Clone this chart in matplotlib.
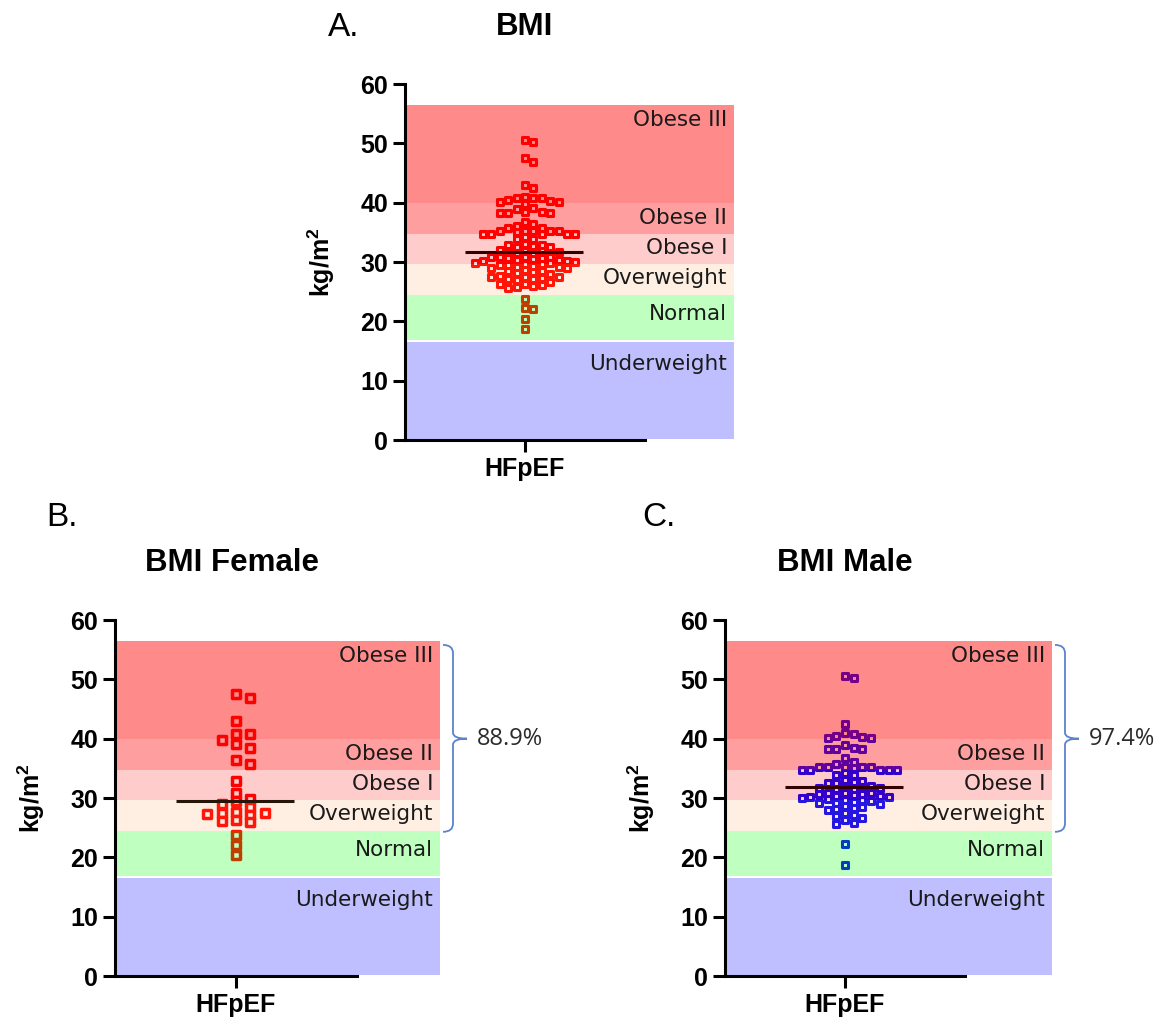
import numpy as np
import matplotlib
matplotlib.use("Agg")
import matplotlib.pyplot as plt
from matplotlib.path import Path
from matplotlib.patches import PathPatch

plt.rcParams["font.family"] = ["Liberation Sans", "DejaVu Sans"]
plt.rcParams["mathtext.fontset"] = "custom"
plt.rcParams["mathtext.rm"] = "Liberation Sans"
plt.rcParams["mathtext.bf"] = "Liberation Sans:bold"

W, H = 1172, 1028

# BMI values (kg/m2)
female = [47.6, 46.8, 42.9, 40.8, 40.8, 39.8, 39.1, 38.5, 36.4, 35.8,
          32.9, 30.8, 29.9, 29.5, 29.0, 28.4, 27.6, 27.5, 27.4, 27.3,
          27.2, 26.3, 26.2, 26.0, 23.8, 22.1, 20.4]
male = [50.6, 50.3, 42.4,
        41.0, 40.8, 40.5, 40.2, 40.1, 40.1,
        38.9, 38.4, 38.2, 38.2, 38.2, 36.7, 36.1,
        35.7, 35.3, 35.3, 35.3, 35.3, 35.2, 35.0, 34.8, 34.8, 34.7, 34.7, 34.7,
        34.2, 33.9, 33.8,
        33.0, 32.9, 32.7, 32.6, 32.5,
        32.0, 31.9, 31.8, 31.7, 31.7, 31.6, 31.5,
        30.9, 30.8, 30.8, 30.7, 30.6, 30.5, 30.4, 30.3, 30.2, 30.1, 30.0,
        29.8, 29.7, 29.6, 29.5, 29.4, 29.2, 29.1, 29.0,
        28.6, 28.4, 28.3, 28.1, 27.9,
        27.4, 27.2, 27.0,
        26.6, 26.3, 25.8, 25.6,
        22.2, 18.7]
everyone = female + male

band_names = ["Underweight", "Normal", "Overweight", "Obese I", "Obese II", "Obese III"]
band_lo = [0.2, 16.9, 24.4, 29.6, 34.8, 39.9]
band_hi = [16.6, 24.4, 29.6, 34.8, 39.9, 56.4]
band_rgb = ["#0000ff", "#00ff00", "#ff9640", "#ff0000", "#ff0000", "#ff0000"]
band_alpha = [0.25, 0.25, 0.15, 0.2, 0.38, 0.46]
label_drop = [3.8, 3.1, 2.3, 2.4, 2.5, 2.4]

bracket_lo, bracket_hi, bracket_mid = 24.3, 55.8, 40.0
pct_female = "88.9%"
pct_male = "97.4%"

fig = plt.figure(figsize=(W / 100, H / 100), dpi=100)
ypx = 356 / 60.0


def swarm(values, dx, dy):
    # greedy swarm on a half-step grid, in pixels
    y = np.asarray(values, float) * ypx
    offs = np.zeros(len(y))
    placed = []
    steps = [0]
    for k in range(1, 60):
        steps += [k, -k]
    for i in np.argsort(-y):
        for j in steps:
            x = j * dx / 2
            if all(abs(x - px) >= dx * 0.999 or abs(y[i] - py) >= dy
                   for px, py in placed):
                break
        placed.append((x, y[i]))
        offs[i] = x
    return offs


def brace(ax, xend, ppx, color):
    xa = xend + 3 / ppx
    xv = xend + 13 / ppx
    xt = xend + 27 / ppx
    r, r2 = 1.4, 1.0
    verts = [(xa, bracket_hi), (xv, bracket_hi), (xv, bracket_hi - r),
             (xv, bracket_mid + r2), (xv, bracket_mid), (xt, bracket_mid),
             (xv, bracket_mid), (xv, bracket_mid - r2),
             (xv, bracket_lo + r), (xv, bracket_lo), (xa, bracket_lo)]
    codes = [Path.MOVETO, Path.CURVE3, Path.CURVE3, Path.LINETO,
             Path.CURVE3, Path.CURVE3, Path.CURVE3, Path.CURVE3,
             Path.LINETO, Path.CURVE3, Path.CURVE3]
    ax.add_patch(PathPatch(Path(verts, codes), fc="none", ec=color, lw=1.3,
                           clip_on=False, zorder=4))


def panel(left, top, width, axis_px, values, color, dx, dy, s, mlw,
          title, title_xy, letter, letter_xy, pct=None):
    ax = fig.add_axes([left / W, 1 - (top + 356) / H, width / W, 356 / H])
    xmax = width / axis_px
    ax.set_xlim(0, xmax)
    ax.set_ylim(0, 60)

    for name, lo, hi, c, a, d in zip(band_names, band_lo, band_hi, band_rgb,
                                     band_alpha, label_drop):
        ax.axhspan(lo, hi, color=c, alpha=a, lw=0, zorder=2)
        ax.text(xmax - 7 / axis_px, hi - d, name, ha="right", va="center",
                fontsize=15.5, family="DejaVu Sans", color="#1a1a1a", zorder=5)

    offs = swarm(values, dx, dy) / axis_px
    ax.scatter(0.5 + offs, values, marker="s", s=s, facecolors="white",
               edgecolors=color, linewidths=mlw, zorder=1)
    med = np.median(values)
    ax.plot([0.25, 0.74], [med, med], color="black", lw=2.2, zorder=1.5,
            solid_capstyle="butt")

    for side in ["top", "right"]:
        ax.spines[side].set_visible(False)
    for side in ["left", "bottom"]:
        ax.spines[side].set_linewidth(2.2)
        ax.spines[side].set_zorder(6)
    ax.spines["bottom"].set_bounds(0, 1)
    ax.set_yticks(range(0, 61, 10))
    ax.set_yticklabels([str(t) for t in range(0, 61, 10)], fontweight="bold")
    ax.set_xticks([0.5])
    ax.set_xticklabels(["HFpEF"], fontweight="bold")
    ax.tick_params(length=8.5, width=2.2, pad=3.5, labelsize=18)
    ax.set_ylabel(r"kg/m$^{\mathbf{2}}$", fontsize=18, fontweight="bold")
    ax.yaxis.set_label_coords(-68 / width, 0.5)

    fig.text(title_xy[0] / W, 1 - title_xy[1] / H, title, ha="center",
             va="center", fontsize=22.5, fontweight="bold")
    fig.text(letter_xy[0] / W, 1 - letter_xy[1] / H, letter, ha="left",
             va="center", fontsize=24)

    if pct is not None:
        brace(ax, xmax, axis_px, "#5b82cc")
        ax.text(xmax + 37 / axis_px, bracket_mid, pct, ha="left", va="center",
                fontsize=17, family="Open Sans", color="#2b2b2b")
    return ax


panel(405, 84, 329, 240, everyone, "#ff0000", 8.4, 6.5, 20, 2.2,
      "BMI", (525, 27), "A.", (328, 27))
panel(115, 620, 325, 242, female, "#ff0000", 14.3, 7.0, 26, 2.5,
      "BMI Female", (232, 563), "B.", (46, 518), pct_female)
panel(725, 620, 327, 240, male, "#0000ff", 8.7, 6.5, 20, 2.2,
      "BMI Male", (845, 563), "C.", (642, 518), pct_male)

fig.savefig("out.png", dpi=100)
